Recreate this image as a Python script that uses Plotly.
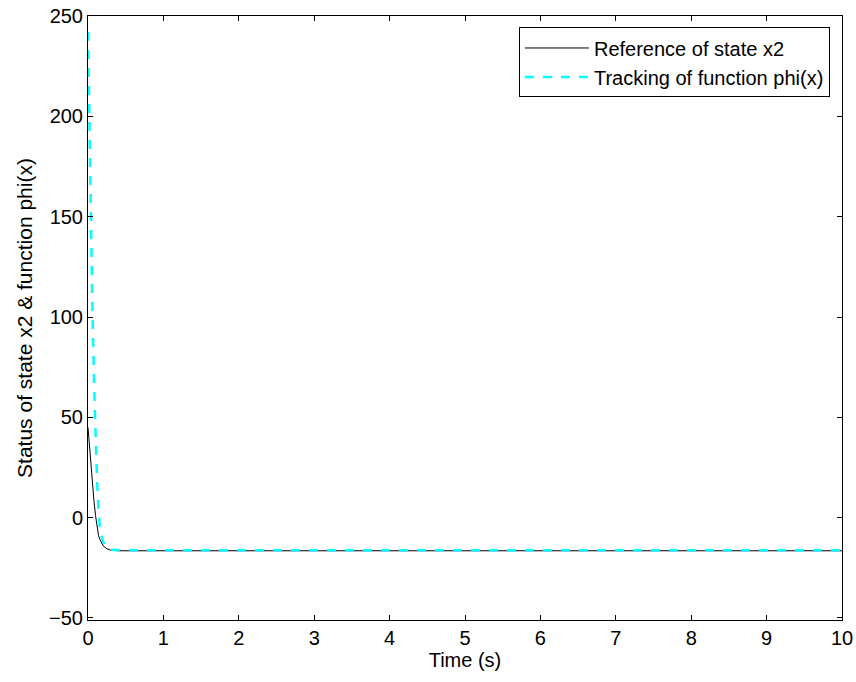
import plotly.graph_objects as go

# Time samples (s)
time_s = [0, 0.02, 0.04, 0.06, 0.08, 0.1, 0.12, 0.14, 0.16, 0.2, 0.25, 0.3, 0.4, 0.5, 1, 2, 3, 4, 5, 6, 7, 8, 9, 10]
# Reference of state x2
ref_x2 = [45, 35, 26, 17, 8, 1, -5, -9, -11, -14, -15.5, -16.2, -16.5, -16.5, -16.5, -16.5, -16.5, -16.5, -16.5, -16.5, -16.5, -16.5, -16.5, -16.5]
# Tracking of function phi(x)
track_phi = [242, 190, 140, 100, 68, 42, 18, 3, -6, -12, -15, -16, -16.3, -16.3, -16.3, -16.3, -16.3, -16.3, -16.3, -16.3, -16.3, -16.3, -16.3, -16.3]

x_ticks = [0, 1, 2, 3, 4, 5, 6, 7, 8, 9, 10]
y_ticks = [-50, 0, 50, 100, 150, 200, 250]

FONT = "Liberation Sans, Arial"

fig = go.Figure()
fig.add_trace(go.Scatter(x=time_s, y=ref_x2, mode="lines", name="Reference of state x2",
                         line=dict(color="black", width=1)))
fig.add_trace(go.Scatter(x=time_s, y=track_phi, mode="lines", name="Tracking of function phi(x)",
                         line=dict(color="#00FFFF", width=2.5, dash="dash")))

axis_common = dict(showline=True, linecolor="black", linewidth=1, mirror="ticks",
                   ticks="inside", ticklen=5, tickcolor="black", showgrid=False, zeroline=False,
                   automargin=False,
                   tickfont=dict(family=FONT, size=20, color="black"))

fig.update_xaxes(range=[0, 10], tickvals=x_ticks,
                 title=dict(text="Time (s)", font=dict(family=FONT, size=20, color="black"), standoff=4),
                 **axis_common)
fig.update_yaxes(range=[-51, 250], tickvals=y_ticks,
                 title=dict(text="Status of state x2 & function phi(x)",
                            font=dict(family=FONT, size=21, color="black"),
                            standoff=10),
                 **axis_common)

fig.update_layout(
    width=856, height=682,
    margin=dict(l=88, r=14, t=16, b=62),
    plot_bgcolor="white", paper_bgcolor="white",
    legend=dict(x=0.984, y=0.981, xanchor="right", yanchor="top",
                bordercolor="black", borderwidth=1, bgcolor="white",
                itemwidth=64, tracegroupgap=0,
                font=dict(family=FONT, size=20, color="black")),
)

fig.write_html("out.html")
